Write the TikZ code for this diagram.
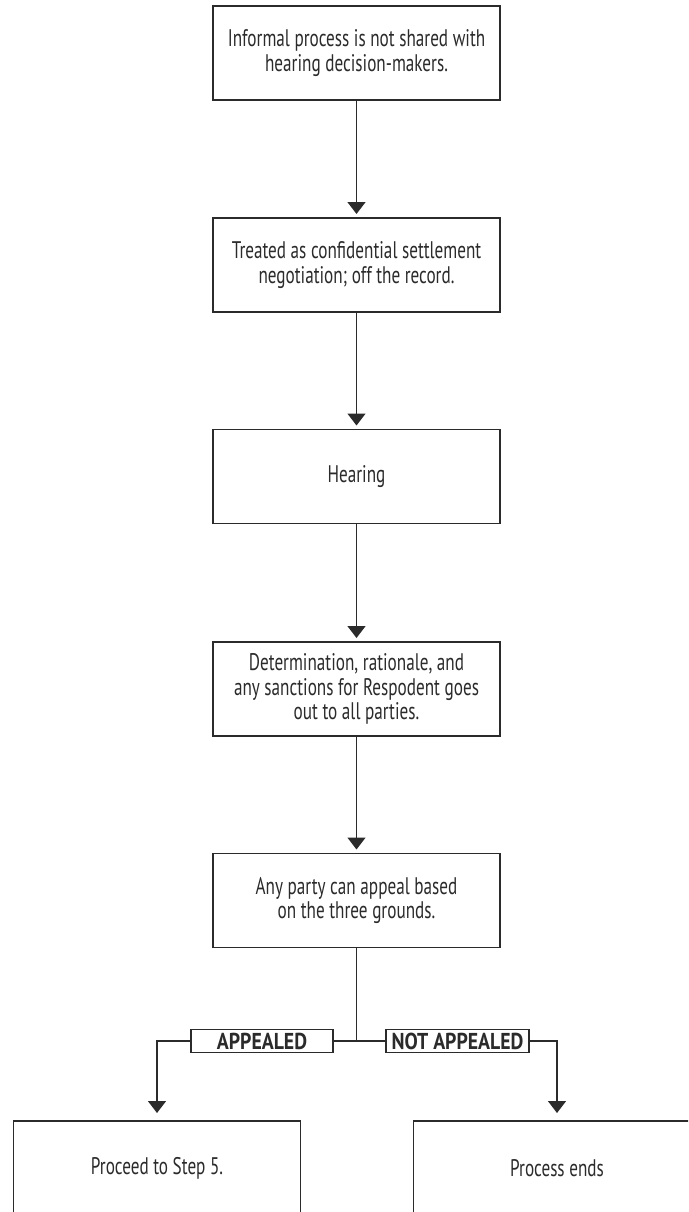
\documentclass[tikz,border=0pt]{standalone}
\usepackage{fontspec}
\usetikzlibrary{arrows.meta}
\newfontfamily\condfont[FakeStretch=0.715]{PT Sans}
\newfontfamily\tagfont[FakeStretch=0.86]{PT Sans Bold}
\definecolor{ink}{HTML}{2B2B2B}
\begin{document}
\begin{tikzpicture}[x=1pt,y=-1pt,
  every node/.style={inner sep=0pt, outer sep=0pt},
  stepbox/.style={draw=ink, line width=1.4pt, minimum width=287pt, minimum height=94pt,
    align=center, text=ink, font=\condfont\fontsize{24}{24.5}\selectfont},
  tagbox/.style={draw=ink, line width=1.3pt, minimum height=23pt, text=ink,
    font=\tagfont\fontsize{23}{24}\selectfont},
  link/.style={draw=ink, line width=1.3pt},
  flow/.style={link, -{Triangle[width=18pt,length=12pt]}, shorten >=4pt}]
\clip (0,0) rectangle (688,1212);
\fill[white] (0,0) rectangle (688,1212);
\node[stepbox] (b1) at (356.5,53) {Informal process is not shared with\\hearing decision-makers.};
\node[stepbox] (b2) at (356.5,265) {Treated as confidential settlement\\negotiation; off the record.};
\node[stepbox] (b3) at (356.5,476.5) {Hearing};
\node[stepbox] (b4) at (356.5,689) {Determination, rationale, and\\any sanctions for Respodent goes\\out to all parties.};
\node[stepbox] (b5) at (356.5,900.5) {Any party can appeal based\\on the three grounds.};
\node[stepbox] (bl) at (157,1168) {Proceed to Step 5.};
\node[stepbox] (br) at (557,1168) {Process ends};
\node[tagbox, minimum width=142pt] (ta) at (262,1041) {APPEALED};
\node[tagbox, minimum width=143pt] (tn) at (457.5,1041) {NOT APPEALED};
\coordinate (jn) at (356.5,1041);
\draw[flow] (b1) -- (b2);
\draw[flow] (b2) -- (b3);
\draw[flow] (b3) -- (b4);
\draw[flow] (b4) -- (b5);
\draw[link] (b5.south) -- (jn);
\draw[link] (ta.east) -- (jn) -- (tn.west);
\draw[flow, shorten >=8pt] (ta.west) -| (bl.north);
\draw[flow, shorten >=8pt] (tn.east) -| (br.north);
\end{tikzpicture}
\end{document}
